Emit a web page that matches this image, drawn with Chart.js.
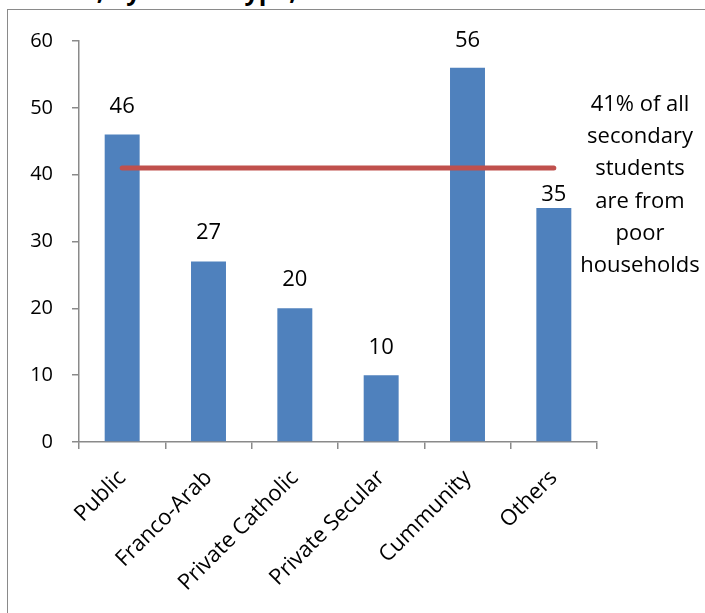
<!DOCTYPE html>
<html>
<head>
<meta charset="utf-8">
<script src="https://cdn.jsdelivr.net/npm/chart.js@4.4.1/dist/chart.umd.min.js"></script>
<style>
  html, body { margin: 0; padding: 0; background: #fff; overflow: hidden; width: 705px; height: 613px; }
  #title {
    position: absolute; left: 4px; top: -61px; white-space: nowrap;
    font: bold 25px "Open Sans", sans-serif; line-height: 34px; color: #000;
  }
  #frame {
    position: absolute; left: 7px; top: 9px; width: 740px; height: 640px;
    border: 1.5px solid #8a8a8a; background: #fff;
  }
  #wrap { position: absolute; left: 0; top: 0; width: 697px; height: 603px; }
</style>
</head>
<body>
<div id="title">Share of students from poor households in secondary<br>schools, by school type, %</div>
<div id="frame"><div id="wrap"><canvas id="chart"></canvas></div></div>
<script>
// School types and share of students from poor households (%)
const categories = ['Public', 'Franco-Arab', 'Private Catholic', 'Private Secular', 'Cummunity', 'Others'];
const poorShare = [46, 27, 20, 10, 56, 35];
// Share across all secondary students, drawn as a reference line
const overallShare = [41, 41, 41, 41, 41, 41];
const yTicks = [0, 10, 20, 30, 40, 50, 60];
const noteLines = ['41% of all', 'secondary', 'students', 'are from', 'poor', 'households'];

const FONT = '"Open Sans", sans-serif';
const AXIS = '#8a8a8a';
// distance between each bar top and the centre of its value label
const labelGap = [28, 29, 29, 27, 27, 13];

const valueLabels = {
  id: 'valueLabels',
  afterDatasetsDraw(chart) {
    const ctx = chart.ctx;
    const meta = chart.getDatasetMeta(1);
    ctx.save();
    ctx.font = '22px ' + FONT;
    ctx.fillStyle = '#000';
    ctx.textAlign = 'center';
    ctx.textBaseline = 'middle';
    meta.data.forEach((bar, i) => {
      ctx.fillText(String(poorShare[i]), bar.x, bar.y - labelGap[i]);
    });
    ctx.restore();
  }
};

const sideNote = {
  id: 'sideNote',
  afterDraw(chart) {
    const ctx = chart.ctx;
    ctx.save();
    ctx.font = '22px ' + FONT;
    ctx.fillStyle = '#000';
    ctx.textAlign = 'center';
    ctx.textBaseline = 'middle';
    const cx = chart.chartArea.right + 43;
    const y0 = chart.scales.y.getPixelForValue(50) - 3;
    noteLines.forEach((t, i) => ctx.fillText(t, cx, y0 + i * 32.2));
    ctx.restore();
  }
};

new Chart(document.getElementById('chart'), {
  data: {
    labels: categories,
    datasets: [
      {
        type: 'line',
        data: overallShare,
        borderColor: '#C0504D',
        borderWidth: 5,
        borderCapStyle: 'round',
        pointRadius: 0,
        pointHoverRadius: 0,
        fill: false,
        order: 0
      },
      {
        type: 'bar',
        data: poorShare,
        backgroundColor: '#4F81BD',
        borderWidth: 0,
        categoryPercentage: 1,
        barPercentage: 0.405,
        order: 1
      }
    ]
  },
  options: {
    responsive: true,
    maintainAspectRatio: false,
    animation: false,
    devicePixelRatio: 1,
    layout: { padding: { left: 0, top: 28, right: 108, bottom: 0 } },
    plugins: { legend: { display: false }, tooltip: { enabled: false } },
    scales: {
      x: {
        offset: true,
        afterFit(s) { s.height = 171; },
        grid: { display: true, drawOnChartArea: false, offset: true, tickLength: 7, color: AXIS, lineWidth: 1.5 },
        border: { display: true, color: AXIS, width: 1.5 },
        ticks: {
          color: '#000', font: { family: FONT, size: 22 },
          maxRotation: 45, minRotation: 45, autoSkip: false, padding: 16
        }
      },
      y: {
        min: 0, max: 60,
        afterFit(s) { s.width = 71; },
        afterBuildTicks(s) { s.ticks = yTicks.map(v => ({ value: v })); },
        grid: { display: true, drawOnChartArea: false, tickLength: 7, color: AXIS, lineWidth: 1.5 },
        border: { display: true, color: AXIS, width: 1.5 },
        ticks: { color: '#000', font: { family: FONT, size: 20 }, padding: 19 }
      }
    }
  },
  plugins: [valueLabels, sideNote]
});
</script>
</body>
</html>
